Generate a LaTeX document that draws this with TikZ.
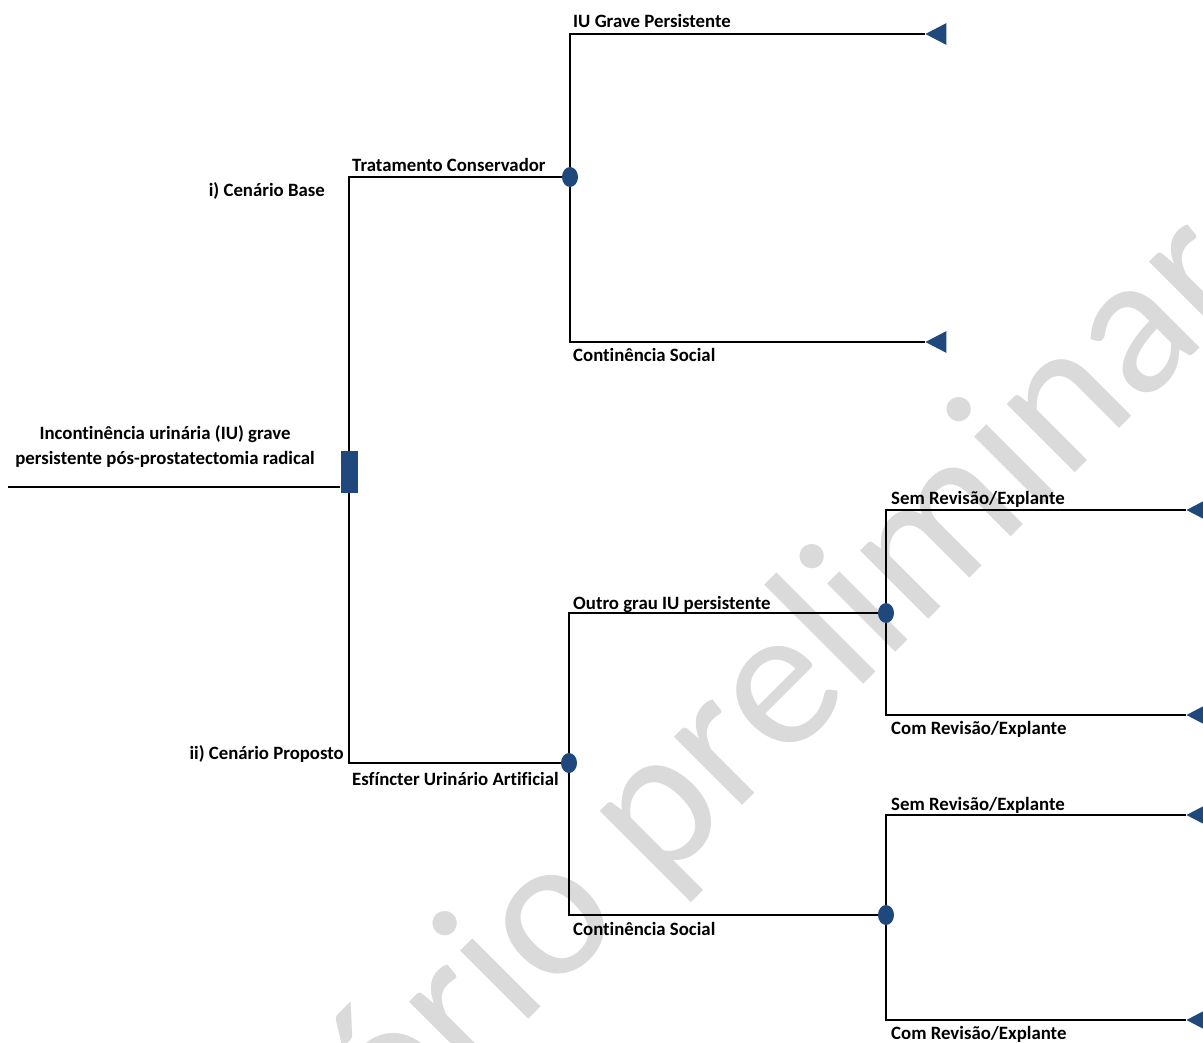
\documentclass[tikz,border=0pt]{standalone}
\usepackage{fontspec}
\setmainfont{Carlito}[Ligatures=NoCommon]
\usetikzlibrary{shapes.geometric, positioning}
\definecolor{treeblue}{HTML}{1F497D}
\definecolor{wmgray}{HTML}{DADADA}

\begin{document}
\begin{tikzpicture}[
    x=1pt, y=-1pt,
    font=\fontsize{18.8}{25}\selectfont\bfseries,
    branch/.style = {draw=black, line width=2pt},
    decision/.style = {rectangle, fill=treeblue, minimum width=17pt, minimum height=42pt, inner sep=0pt},
    chance/.style = {ellipse, fill=treeblue, minimum width=16pt, minimum height=20pt, inner sep=0pt},
    terminal/.style = {isosceles triangle, isosceles triangle apex angle=55, shape border rotate=180, fill=treeblue, inner sep=0pt, minimum height=21pt, anchor=apex},
    lbl/.style = {anchor=base west, inner sep=0pt},
    lblr/.style = {anchor=base east, inner sep=0pt},
    wmark/.style = {text=wmgray, font=\fontsize{202}{202}\selectfont, rotate=45, anchor=base, inner sep=0pt}
]
    \useasboundingbox (0,0) rectangle (1203,1043);
    % watermark
    \begin{scope}
        \clip (0,0) rectangle (1203,1043);
        \node [wmark] (marca) at (680,868) {Relatório preliminar};
    \end{scope}

    % decision, chance and terminal nodes
    \coordinate (raiz) at (8,487);
    \node [decision] (dec) at (349,472) {};
    \node [chance] (conserv) at (570,177) {};
    \node [chance] (esfinc) at (569,763) {};
    \node [chance] (outro) at (886,613) {};
    \node [chance] (contin) at (886,915) {};
    \node [terminal] (tgrave) at (925,34) {};
    \node [terminal] (tsocial) at (925,342) {};
    \node [terminal] (tsem1) at (1186,510) {};
    \node [terminal] (tcom1) at (1186,715) {};
    \node [terminal] (tsem2) at (1186,815) {};
    \node [terminal] (tcom2) at (1186,1020) {};

    % branches
    \draw [branch] (raiz) -- (raiz -| dec.west);
    \draw [branch] (dec.north) |- (conserv);
    \draw [branch] (dec.south) |- (esfinc);
    \draw [branch] (conserv.north) |- (tgrave);
    \draw [branch] (conserv.south) |- (tsocial);
    \draw [branch] (esfinc.north) |- (outro);
    \draw [branch] (esfinc.south) |- (contin);
    \draw [branch] (outro.north) |- (tsem1);
    \draw [branch] (outro.south) |- (tcom1);
    \draw [branch] (contin.north) |- (tsem2);
    \draw [branch] (contin.south) |- (tcom2);

    % labels
    \node [anchor=north, align=center, inner sep=0pt] (l_raiz) at (165,425) {Incontinência urinária (IU) grave\\persistente pós-prostatectomia radical};
    \node [lblr] (l_base) at (325,197) {i) Cenário Base};
    \node [lblr] (l_prop) at (344,759) {ii) Cenário Proposto};
    \node [lbl] (l_conserv) at (352,172) {Tratamento Conservador};
    \node [lbl] (l_esfinc) at (352,785) {Esfíncter Urinário Artificial};
    \node [lbl] (l_grave) at (573,28) {IU Grave Persistente};
    \node [lbl] (l_social1) at (573,361) {Continência Social};
    \node [lbl] (l_outro) at (573,609) {Outro grau IU persistente};
    \node [lbl] (l_social2) at (573,935) {Continência Social};
    \node [lbl] (l_sem1) at (891,504) {Sem Revisão/Explante};
    \node [lbl] (l_com1) at (891,734) {Com Revisão/Explante};
    \node [lbl] (l_sem2) at (891,810) {Sem Revisão/Explante};
    \node [lbl] (l_com2) at (891,1039) {Com Revisão/Explante};
\end{tikzpicture}
\end{document}
